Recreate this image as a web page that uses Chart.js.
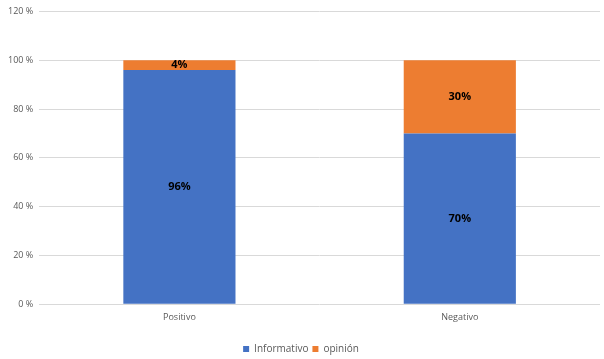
<!DOCTYPE html>
<html>
<head>
<meta charset="utf-8">
<script src="https://cdn.jsdelivr.net/npm/chart.js@4"></script>
<style>
  body { margin: 0; background: #fff; }
  #wrap { width: 604px; height: 359px; position: relative; }
</style>
</head>
<body>
<div id="wrap"><canvas id="chart"></canvas></div>
<script>
let categories = ["Positivo", "Negativo"];
let informativo = [96, 70];
let opinion = [4, 30];
let yTicks = [0, 20, 40, 60, 80, 100, 120];

// draws the percent labels in the middle of each bar segment
let barLabels = {
    id: "barLabels",
    afterDatasetsDraw(chart) {
        let ctx = chart.ctx;
        ctx.save();
        ctx.font = "bold 11px 'Open Sans', sans-serif";
        ctx.fillStyle = "#000";
        ctx.textAlign = "center";
        ctx.textBaseline = "middle";
        chart.data.datasets.forEach((ds, i) => {
            chart.getDatasetMeta(i).data.forEach((bar, j) => {
                let mid = (bar.y + bar.base) / 2;
                ctx.fillText(ds.data[j] + "%", bar.x, mid);
            });
        });
        ctx.restore();
    }
};

let ctx = document.getElementById("chart").getContext("2d");
let chart = new Chart(ctx, {
    type: "bar",
    data: {
        labels: categories,
        datasets: [{
            label: "Informativo",
            data: informativo,
            backgroundColor: "#4472c4",
            categoryPercentage: 1,
            barPercentage: 0.4
        }, {
            label: "opinión",
            data: opinion,
            backgroundColor: "#ed7d31",
            categoryPercentage: 1,
            barPercentage: 0.4
        }]
    },
    options: {
        responsive: true,
        maintainAspectRatio: false,
        animation: false,
        layout: { padding: { top: 0, right: 4, left: 2, bottom: -5 } },
        plugins: {
            legend: {
                position: "bottom",
                labels: {
                    boxWidth: 6,
                    boxHeight: 6,
                    padding: 4,
                    color: "#595959",
                    font: { family: "'Open Sans', sans-serif", size: 10 }
                }
            },
            tooltip: { enabled: false }
        },
        scales: {
            x: {
                stacked: true,
                grid: { display: false },
                border: { display: false },
                afterFit: axis => { axis.height += 17; },
                ticks: {
                    padding: 0,
                    color: "#595959",
                    font: { family: "'Open Sans', sans-serif", size: 9 }
                }
            },
            y: {
                stacked: true,
                min: 0,
                max: 120,
                afterBuildTicks: axis => { axis.ticks = yTicks.map(v => ({ value: v })); },
                grid: { color: "#d9d9d9", drawTicks: false },
                border: { display: false },
                ticks: {
                    padding: 6,
                    color: "#595959",
                    font: { family: "'Open Sans', sans-serif", size: 9 },
                    callback: v => v + " %"
                }
            }
        }
    },
    plugins: [barLabels]
});
</script>
</body>
</html>
